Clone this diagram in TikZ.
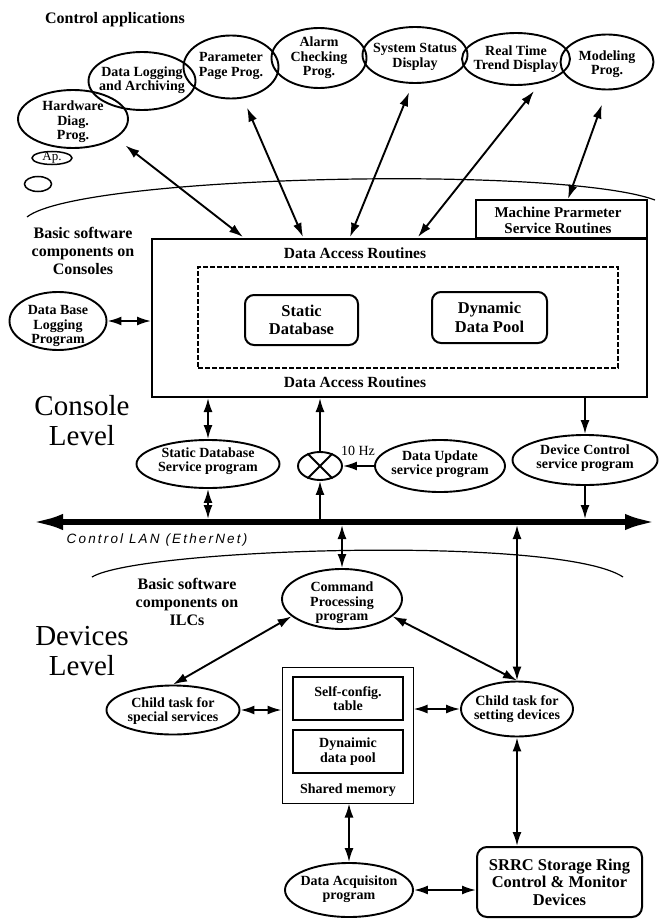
\documentclass[tikz,border=0pt]{standalone}
\usepackage{fontspec}
\setmainfont{Liberation Serif}
\newfontfamily\lanfont[LetterSpace=16]{Liberation Sans}
\usetikzlibrary{arrows.meta,shapes.geometric,calc}
\newcommand{\myfs}[2]{\fontsize{#1}{#2}\selectfont}
\begin{document}
\begin{tikzpicture}[x=1pt,y=-1pt,
  ellbox/.style={draw, ellipse, line width=1.9pt, inner sep=0pt},
  txt/.style={align=center, inner sep=0pt, font=\bfseries\myfs{14}{14.5}},
  bigtxt/.style={align=center, inner sep=0pt, font=\bfseries\myfs{16}{18}},
  leveltxt/.style={align=center, inner sep=0pt, font=\myfs{29}{30}},
  boxthick/.style={draw, line width=2pt, inner sep=0pt},
  arr/.style={line width=1.9pt, -{Latex[length=14pt,width=9pt]}},
  darr/.style={line width=1.9pt, {Latex[length=14pt,width=9pt]}-{Latex[length=14pt,width=9pt]}},
  arcline/.style={line width=1.2pt},
]
\useasboundingbox[fill=white] (0,0) rectangle (660,920);

% title
\node[bigtxt] (title) at (115,20) {Control applications};

% top application ellipses
\node[ellbox, minimum width=110pt, minimum height=58pt] (hw) at (73,119) {};
\node[txt] (hwt) at (73,122) {Hardware\\Diag.\\Prog.};
\node[ellbox, minimum width=107pt, minimum height=58pt] (dla) at (142,81) {};
\node[txt] (dlat) at (142,80) {Data Logging\\and Archiving};
\node[ellbox, minimum width=95pt, minimum height=63pt] (ppp) at (231,67) {};
\node[txt] (pppt) at (231,66) {Parameter\\Page Prog.};
\node[ellbox, minimum width=95pt, minimum height=60pt] (acp) at (319,58) {};
\node[txt] (acpt) at (319,58) {Alarm\\Checking\\Prog.};
\node[ellbox, minimum width=105pt, minimum height=56pt] (ssd) at (415,55) {};
\node[txt] (ssdt) at (415,57) {System Status\\Display};
\node[ellbox, minimum width=108pt, minimum height=52pt] (rtt) at (516,59) {};
\node[txt] (rttt) at (516,59) {Real Time\\Trend Display};
\node[ellbox, minimum width=93pt, minimum height=55pt] (mod) at (607,62) {};
\node[txt] (modt) at (607,64) {Modeling\\Prog.};
\node[ellbox, minimum width=40pt, minimum height=13pt, line width=1.5pt] (ap) at (52,158) {};
\node[inner sep=0pt, font=\myfs{13}{13}] (apt) at (52,158) {Ap.};
\node[ellbox, minimum width=27pt, minimum height=15pt, line width=1.5pt] (sm) at (38,184) {};

% arcs
\draw[arcline] (27,217) .. controls (80,175) and (560,165) .. (655,200);
\draw[arcline] (92,577) .. controls (140,548) and (560,535) .. (623,577);

% console text
\node[bigtxt] (bsc) at (83,251) {Basic software\\components on\\Consoles};
\node[leveltxt] (cl) at (82,421) {Console\\Level};

% main box
\node[boxthick, minimum width=495pt, minimum height=158pt] (dar) at (399.5,318) {};
\node[boxthick, minimum width=171pt, minimum height=38pt] (mps) at (561.5,219) {};
\node[align=center, inner sep=0pt, font=\bfseries\myfs{15}{16}] (mpst) at (558,220) {Machine Prarmeter\\Service Routines};
\node[draw, dashed, dash pattern=on 5pt off 2pt, line width=1.4pt, minimum width=420pt, minimum height=101pt, inner sep=0pt] (dash) at (408,317.5) {};
\node[inner sep=0pt, font=\bfseries\myfs{15.5}{16}] (dart) at (355,253) {Data Access Routines};
\node[inner sep=0pt, font=\bfseries\myfs{15.5}{16}] (darb) at (355,382) {Data Access Routines};
\node[boxthick, rounded corners=9pt, minimum width=113pt, minimum height=50pt, align=center, font=\bfseries\myfs{16.5}{18.5}] (sdbx) at (301.5,320) {Static\\Database};
\node[boxthick, rounded corners=9pt, minimum width=115pt, minimum height=51pt, align=center, font=\bfseries\myfs{16.5}{18.5}] (ddp) at (489.5,317.5) {Dynamic\\Data Pool};

\node[ellbox, minimum width=97pt, minimum height=58pt] (dbl) at (58,321) {};
\node[txt] (dblt) at (58,326) {Data Base\\Logging\\Program};

% top arrows
\coordinate (t1) at (243,237);
\coordinate (t2) at (303,237);
\coordinate (t3) at (350,237);
\coordinate (t4) at (418,237);
\coordinate (t5) at (568,199);
\draw[darr, shorten <=12pt] (hw.-24) -- (t1);
\draw[darr, shorten <=10pt] (ppp.-69) -- (t2);
\draw[darr, shorten <=9pt] (ssd.-95) -- (t3);
\draw[darr, shorten <=10pt] (rtt.-45) -- (t4);
\draw[darr, shorten <=15pt] (mod.-90) -- (t5);
\draw[darr] (dbl.east) -- (dbl.east -| dar.west);

% console services
\node[ellbox, minimum width=143pt, minimum height=48pt] (sdb) at (208,464) {};
\node[txt] (sdbt) at (208,461) {Static Database\\Service program};
\node[ellbox, minimum width=44pt, minimum height=28pt] (mix) at (320,466) {};
\draw[line width=1.9pt] (mix.45) -- (mix.-135) (mix.135) -- (mix.-45);
\node[inner sep=0pt, font=\myfs{14}{14}] (hz) at (358,451) {10 Hz};
\node[ellbox, minimum width=130pt, minimum height=52pt] (dup) at (440,466) {};
\node[txt] (dupt) at (440,464) {Data Update\\service program};
\node[ellbox, minimum width=145pt, minimum height=50pt] (dev) at (585,460) {};
\node[txt] (devt) at (585,458) {Device Control\\service program};

\coordinate (lanL) at (30,522);
\coordinate (lanR) at (658,522);

\draw[darr] (sdb.north |- dar.south) -- (sdb.north);
\draw[darr, shorten >=3pt] (sdb.south) -- (sdb.south |- lanL);
\draw[arr] (mix.north) -- (mix.north |- dar.south);
\draw[arr, shorten <=3pt] (mix.south |- lanL) -- (mix.south);
\draw[arr] (dup.west) -- (mix.east);
\draw[arr] (dev.north |- dar.south) -- (dev.north);
\draw[arr, shorten >=3pt] (dev.south) -- (dev.south |- lanL);

% devices level
\node[bigtxt] (bsi) at (187,602) {Basic software\\components on\\ILCs};
\node[leveltxt] (dl) at (82,651) {Devices\\Level};

\node[ellbox, minimum width=120pt, minimum height=60pt] (cmd) at (342,599) {};
\node[txt] (cmdt) at (342,603) {Command\\Processing\\program};
\node[ellbox, minimum width=133pt, minimum height=49pt] (cspec) at (173,710) {};
\node[txt] (cspect) at (173,711) {Child task for\\special services};
\node[ellbox, minimum width=112pt, minimum height=55pt] (cset) at (517,709) {};
\node[txt] (csett) at (517,709) {Child task for\\setting devices};

\node[draw, line width=1pt, minimum width=131pt, minimum height=136pt, inner sep=0pt] (shm) at (347.5,735) {};
\node[draw, line width=2.6pt, minimum width=110pt, minimum height=43pt, align=center, inner sep=0pt, font=\bfseries\myfs{14}{14.5}] (scfg) at (348,698.5) {Self-config.\\table};
\node[draw, line width=2.6pt, minimum width=110pt, minimum height=43pt, align=center, inner sep=0pt, font=\bfseries\myfs{14}{14.5}] (dynp) at (348,751.5) {Dynaimic\\data pool};
\node[txt] (shmt) at (348,790) {Shared memory};

\node[ellbox, minimum width=128pt, minimum height=54pt] (daq) at (349,890) {};
\node[txt] (daqt) at (349,889) {Data Acquisiton\\program};
\node[boxthick, rounded corners=10pt, minimum width=165pt, minimum height=70pt, align=center, font=\bfseries\myfs{16.5}{17.5}] (srrc) at (559.5,882) {SRRC Storage Ring\\Control \& Monitor\\Devices};

\draw[darr, shorten <=3pt] (cmd.north |- lanL) -- (cmd.north);
\draw[darr, shorten <=3pt] (cset.north |- lanL) -- (cset.north);
\draw[darr] (cmd.-161) -- (cspec.north);
\draw[darr] (cmd.-19) -- (cset.north);
\draw[darr] (cspec.east) -- (cspec.east -| shm.west);
\draw[darr] (cset.west) -- (cset.west -| shm.east);
\draw[darr] (daq.north |- shm.south) -- (daq.north);
\draw[darr] (daq.east) -- (daq.east -| srrc.west);
\draw[darr] (cset.south) -- (cset.south |- srrc.north);

% LAN
\draw[line width=6pt, {Latex[length=33pt,width=16pt]}-{Latex[length=33pt,width=16pt]}] (lanL) -- (lanR);
\node[inner sep=0pt, font=\lanfont\itshape\myfs{13.5}{14}] (lan) at (157,540) {Control LAN (EtherNet)};
\end{tikzpicture}
\end{document}
